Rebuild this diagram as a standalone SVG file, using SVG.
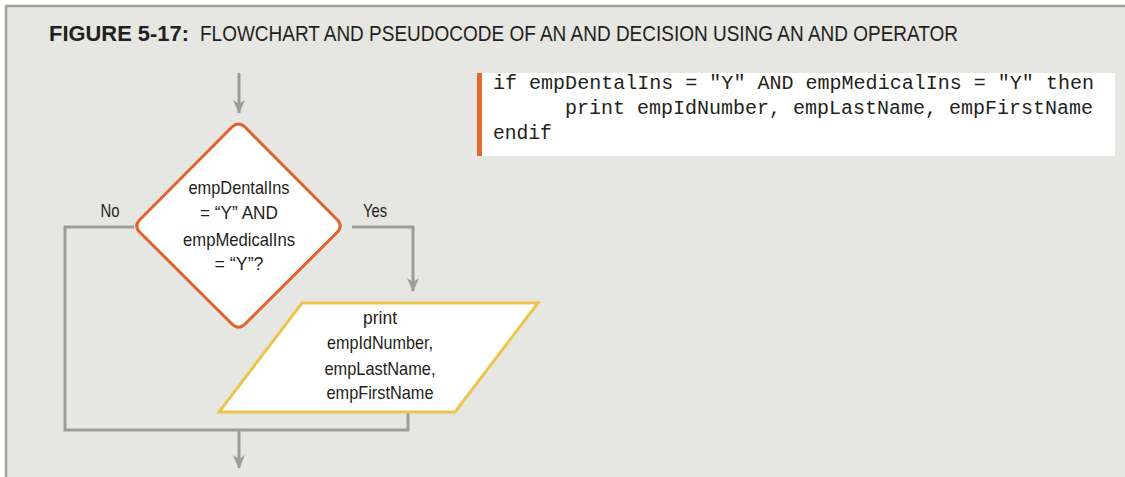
<svg xmlns="http://www.w3.org/2000/svg" width="1125" height="477" viewBox="0 0 1125 477">
<style>
.lbl{font-family:"Liberation Sans",Arial,sans-serif;font-size:18.5px;fill:#231f20;text-anchor:middle}
.code{font-family:"Liberation Mono","Courier New",monospace;font-size:19.6px;fill:#231f20;white-space:pre}
.conn{fill:none;stroke:#9d9c95;stroke-width:3}
</style>
<defs>
<marker id="arr" markerWidth="14" markerHeight="12" refX="13" refY="6" orient="auto" markerUnits="userSpaceOnUse">
<path d="M0,0 L14,6 L0,12 L4,6 Z" fill="#9d9c95"/>
</marker>
</defs>
<rect x="0" y="0" width="1125" height="477" fill="#ffffff"/>
<rect x="6" y="6" width="1119" height="471" fill="#e6e6e3"/>
<path d="M6,477 V6 H1125" fill="none" stroke="#a3a39b" stroke-width="2.5"/>
<g id="title">
<text x="49" y="41" font-family="'Liberation Sans',Arial,sans-serif" font-size="22.5px" font-weight="bold" fill="#231f20" textLength="140" lengthAdjust="spacingAndGlyphs">FIGURE 5-17:</text>
<text x="200" y="41" font-family="'Liberation Sans',Arial,sans-serif" font-size="22.5px" fill="#231f20" textLength="758" lengthAdjust="spacingAndGlyphs">FLOWCHART AND PSEUDOCODE OF AN AND DECISION USING AN AND OPERATOR</text>
</g>
<g id="pseudocode">
<rect x="481" y="73" width="634" height="83" fill="#ffffff"/>
<rect x="477" y="73" width="5" height="83" fill="#e2692b"/>
<text class="code" x="493" y="89" textLength="601" lengthAdjust="spacingAndGlyphs">if empDentalIns = "Y" AND empMedicalIns = "Y" then</text>
<text class="code" x="565" y="114" textLength="528" lengthAdjust="spacingAndGlyphs">print empIdNumber, empLastName, empFirstName</text>
<text class="code" x="493" y="139">endif</text>
</g>
<g id="connectors">
<path class="conn" d="M239,73 V113" marker-end="url(#arr)"/>
<path class="conn" d="M134,227 H65 V430 H408 V412"/>
<path class="conn" d="M352,227 H413 V291" marker-end="url(#arr)"/>
<path class="conn" d="M239,430 V468" marker-end="url(#arr)"/>
<text class="lbl" x="110" y="217" textLength="19" lengthAdjust="spacingAndGlyphs">No</text>
<text class="lbl" x="375" y="217" textLength="24" lengthAdjust="spacingAndGlyphs">Yes</text>
</g>
<g id="decision">
<path d="M232,127 Q238.5,121 245,127 L337,219.5 Q343.5,226 337,232.5 L245,324 Q238.5,330.5 232,324 L140,232.5 Q133.5,226 140,219.5 Z" fill="#ffffff" stroke="#e0632a" stroke-width="3" stroke-linejoin="round"/>
<text class="lbl" x="239" y="194" textLength="101" lengthAdjust="spacingAndGlyphs">empDentalIns</text>
<text class="lbl" x="239" y="219" textLength="78" lengthAdjust="spacingAndGlyphs">= “Y” AND</text>
<text class="lbl" x="239" y="246" textLength="112" lengthAdjust="spacingAndGlyphs">empMedicalIns</text>
<text class="lbl" x="239" y="270" textLength="49" lengthAdjust="spacingAndGlyphs">= “Y”?</text>
</g>
<g id="output">
<path d="M302,303 H538 L455,412 H219 Z" fill="#ffffff" stroke="#ecc64c" stroke-width="3" stroke-linejoin="miter"/>
<text class="lbl" x="380" y="324" textLength="34" lengthAdjust="spacingAndGlyphs">print</text>
<text class="lbl" x="380" y="349" textLength="106" lengthAdjust="spacingAndGlyphs">empIdNumber,</text>
<text class="lbl" x="380" y="375" textLength="111" lengthAdjust="spacingAndGlyphs">empLastName,</text>
<text class="lbl" x="380" y="399" textLength="107" lengthAdjust="spacingAndGlyphs">empFirstName</text>
</g>
</svg>
